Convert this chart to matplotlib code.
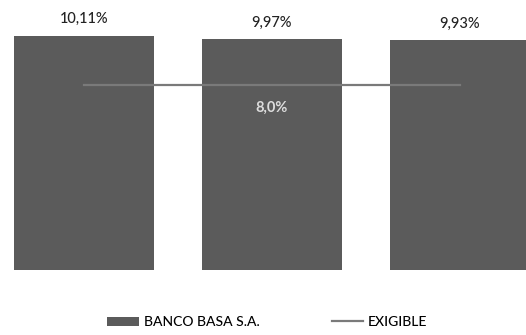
import matplotlib
matplotlib.use("Agg")
import matplotlib.pyplot as plt
from matplotlib.patches import Patch
from matplotlib.lines import Line2D

# data
periods = ["P1", "P2", "P3"]
banco_basa = [10.11, 9.97, 9.93]
banco_labels = ["10,11%", "9,97%", "9,93%"]
exigible = [8.0, 8.0, 8.0]
exigible_label = "8,0%"

bar_color = "#5b5b5b"
line_color = "#7a7a7a"

plt.rcParams['font.family'] = ['Lato', 'DejaVu Sans']

fig = plt.figure(figsize=(5.26, 3.35), dpi=100)
ax = fig.add_axes([0, 65 / 335, 1, 270 / 335])

x = list(range(len(periods)))
ax.bar(x, banco_basa, width=0.745, color=bar_color, zorder=2)
ax.plot(x, exigible, color=line_color, lw=1.6, zorder=3)

for xi, v, lab in zip(x, banco_basa, banco_labels):
    ax.text(xi, v + 0.42, lab, ha="center", va="bottom", fontsize=10.5,
            color="#222222", fontweight="medium")

ax.text(x[1], exigible[1] - 0.7, exigible_label, ha="center", va="top",
        fontsize=10.5, color="#dddddd", fontweight="bold")

ax.set_xlim(-84 / 188, (526 - 84) / 188)
ax.set_ylim(0, 270 / 23.15)
ax.axis("off")

handles = [Patch(facecolor=bar_color, edgecolor="none"),
           Line2D([0], [0], color=line_color, lw=1.6)]
fig.legend(handles, ["BANCO BASA S.A.", "EXIGIBLE"], loc="center",
           bbox_to_anchor=(0.508, 1 - 322 / 335), ncol=2, frameon=False,
           handlelength=2.3, handleheight=0.6,
           handletextpad=0.3, columnspacing=5.2,
           prop={'size': 10, 'weight': 'medium'})

fig.savefig("out.png", dpi=100, facecolor="white")
